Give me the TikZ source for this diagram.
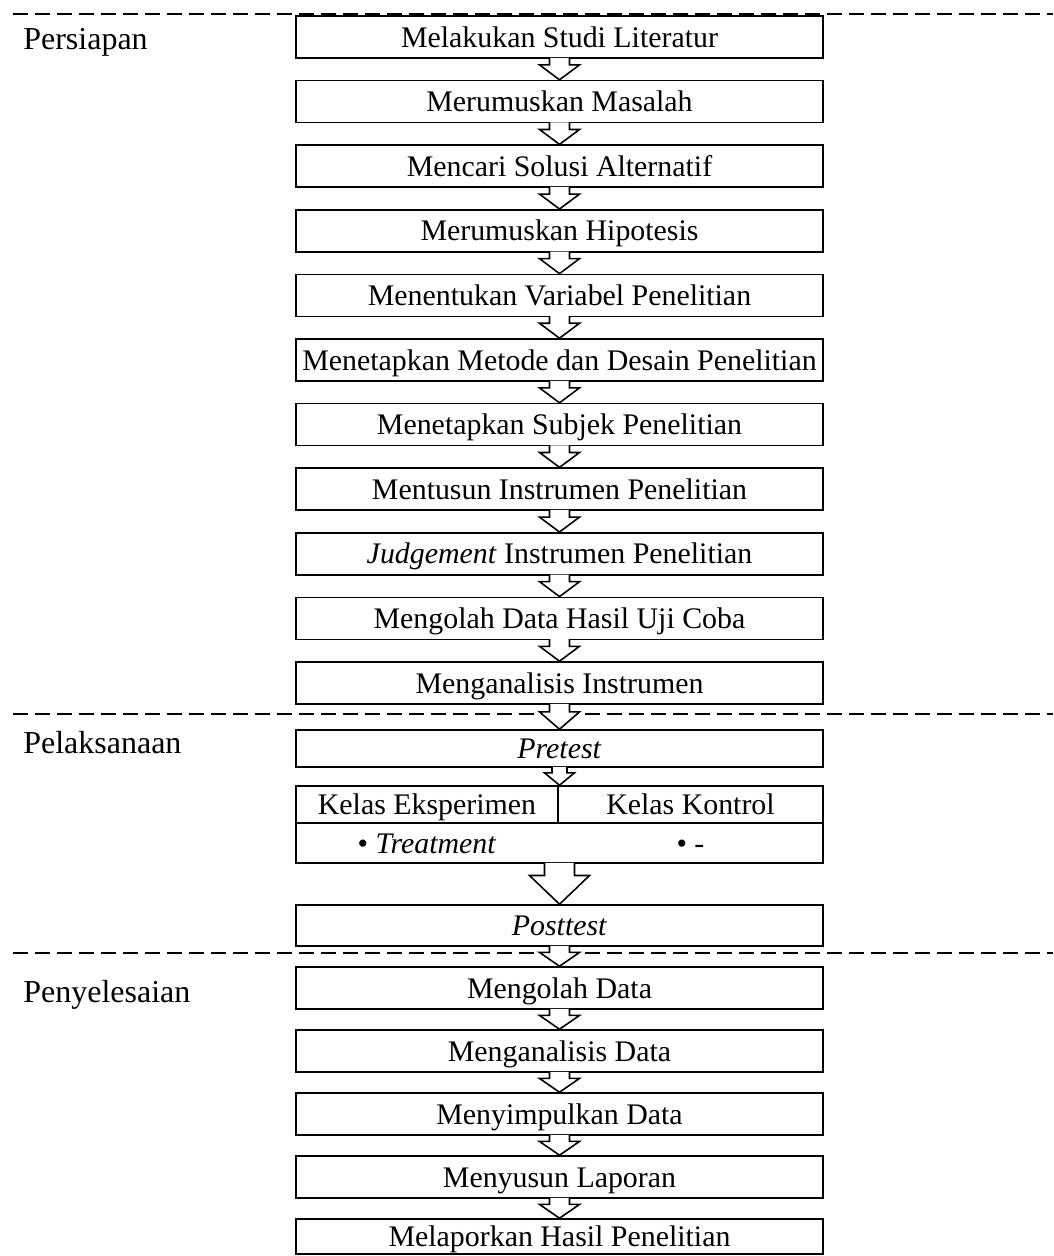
\documentclass[tikz,border=0pt]{standalone}
\usepackage{fontspec}
\setmainfont{Liberation Serif}
\usetikzlibrary{calc}

\begin{document}
\begin{tikzpicture}[
  tahap/.style={draw, line width=0.9pt, minimum width=10.54cm, minimum height=0.84cm,
    inner sep=0pt, text height=15pt, text depth=3.6pt, font=\fontsize{17}{20}\selectfont},
  isi/.style={inner sep=0pt, text height=15pt, text depth=3.6pt, font=\fontsize{17}{20}\selectfont},
  fase/.style={anchor=base west, inner sep=0pt, font=\fontsize{18.2}{22}\selectfont},
  batas/.style={line width=0.9pt, dash pattern=on 0.3cm off 0.14cm},
  panah/.style={line width=0.9pt, fill=white, line join=miter}
]
\useasboundingbox (0,0) rectangle (21.06,-25.12);

% ============================================================
% Phase separators and phase names
% ============================================================
\draw[batas] (0.26,-0.28) -- (21.06,-0.28);
\draw[batas] (0.26,-14.28) -- (21.06,-14.28);
\draw[batas] (0.26,-19.06) -- (21.06,-19.06);

\node[fase] (fsiap) at (0.46,-1.0) {Persiapan};
\node[fase] (flaksana) at (0.46,-15.06) {Pelaksanaan};
\node[fase] (fselesai) at (0.46,-20.04) {Penyelesaian};

% ============================================================
% Persiapan: 11 steps, pitch 1.292
% ============================================================
\node[tahap] (lit)       at (11.19,-0.74)   {Melakukan Studi Literatur};
\node[tahap] (masalah)   at (11.19,-2.032)  {Merumuskan Masalah};
\node[tahap] (solusi)    at (11.19,-3.324)  {Mencari Solusi Alternatif};
\node[tahap] (hipotesis) at (11.19,-4.616)  {Merumuskan Hipotesis};
\node[tahap] (variabel)  at (11.19,-5.908)  {Menentukan Variabel Penelitian};
\node[tahap] (metode)    at (11.19,-7.2)    {Menetapkan Metode dan Desain Penelitian};
\node[tahap] (subjek)    at (11.19,-8.492)  {Menetapkan Subjek Penelitian};
\node[tahap] (instrumen) at (11.19,-9.784)  {Mentusun Instrumen Penelitian};
\node[tahap] (judgement) at (11.19,-11.076) {\textit{Judgement} Instrumen Penelitian};
\node[tahap] (ujicoba)   at (11.19,-12.368) {Mengolah Data Hasil Uji Coba};
\node[tahap] (analisis)  at (11.19,-13.66)  {Menganalisis Instrumen};

% ============================================================
% Pelaksanaan
% ============================================================
\node[tahap, minimum height=0.74cm] (pretest) at (11.19,-14.97) {\textit{Pretest}};

% class block: two cells on top, one row of treatments below
\node[tahap, minimum height=1.54cm] (kelas) at (11.19,-16.49) {};
\coordinate (bagi) at (11.16,-16.46);
\draw[line width=0.9pt] (kelas.west |- bagi) -- (kelas.east |- bagi);
\draw[line width=0.9pt] (bagi |- kelas.north) -- (bagi);
\node[isi] (eks)    at (8.54,-16.09)  {Kelas Eksperimen};
\node[isi] (kon)    at (13.81,-16.09) {Kelas Kontrol};
\node[isi] (treat)  at (8.54,-16.86)  {• \textit{Treatment}};
\node[isi] (kosong) at (13.81,-16.86) {• -};

\node[tahap, minimum height=0.82cm] (posttest) at (11.19,-18.51) {\textit{Posttest}};

% ============================================================
% Penyelesaian
% ============================================================
\node[tahap] (olah)    at (11.19,-19.76) {Mengolah Data};
\node[tahap] (analisa) at (11.19,-21.02) {Menganalisis Data};
\node[tahap] (simpul)  at (11.19,-22.28) {Menyimpulkan Data};
\node[tahap] (laporan) at (11.19,-23.54) {Menyusun Laporan};
\node[tahap, minimum height=0.70cm] (lapor) at (11.19,-24.73) {Melaporkan Hasil Penelitian};

% ============================================================
% Block arrows (hollow), \w = half stem width
% ============================================================
\foreach \a/\b/\w in {lit/masalah/0.2, masalah/solusi/0.2, solusi/hipotesis/0.2,
    hipotesis/variabel/0.2, variabel/metode/0.2, metode/subjek/0.2,
    subjek/instrumen/0.2, instrumen/judgement/0.2, judgement/ujicoba/0.2,
    ujicoba/analisis/0.2, analisis/pretest/0.2, pretest/kelas/0.15,
    kelas/posttest/0.3, posttest/olah/0.2, olah/analisa/0.2,
    analisa/simpul/0.2, simpul/laporan/0.2, laporan/lapor/0.2} {
  \coordinate (m) at ($(\a.south)!0.29!(\b.north)$);
  \draw[panah] ([xshift=-\w cm, yshift=0.02cm]\a.south) -- ([xshift=-\w cm]m)
    -- ([xshift=-2*\w cm]m) -- (\b.north) -- ([xshift=2*\w cm]m)
    -- ([xshift=\w cm]m) -- ([xshift=\w cm, yshift=0.02cm]\a.south);
}

\end{tikzpicture}
\end{document}
